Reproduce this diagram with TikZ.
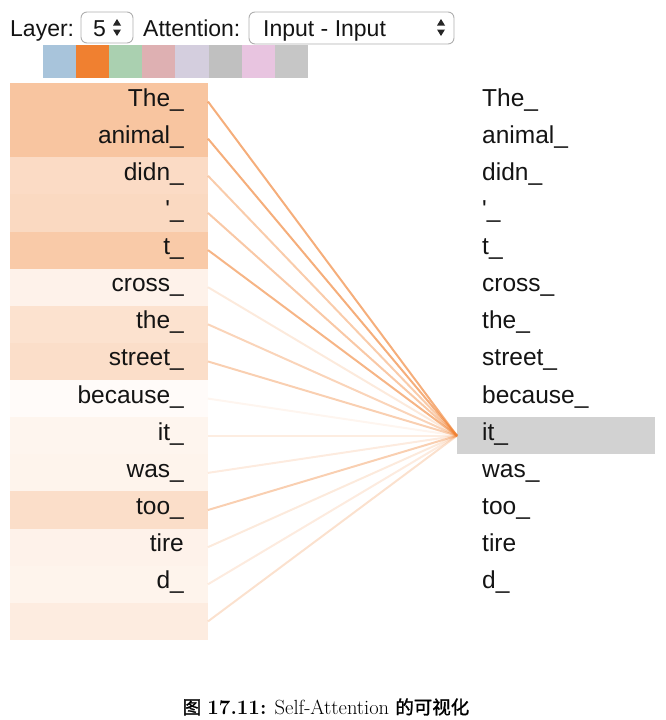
\documentclass[tikz,border=0pt]{standalone}
\usepackage{fontspec}
\newfontfamily\hv[Ligatures=TeXOff]{Liberation Sans}
\newfontfamily\cjk[AutoFakeBold=1.5,Scale=0.9]{Noto Sans CJK SC}
\definecolor{attn}{RGB}{240,128,48}
\definecolor{hl}{RGB}{210,210,210}
\definecolor{ddborder}{RGB}{175,175,175}
\definecolor{sw1}{RGB}{168,196,219}
\definecolor{sw2}{RGB}{240,128,48}
\definecolor{sw3}{RGB}{170,208,176}
\definecolor{sw4}{RGB}{222,176,178}
\definecolor{sw5}{RGB}{212,206,222}
\definecolor{sw6}{RGB}{192,192,192}
\definecolor{sw7}{RGB}{232,196,224}
\definecolor{sw8}{RGB}{198,198,198}
\tikzset{
  word/.style={font=\hv\fontsize{24.5}{27}\selectfont, inner sep=0pt, text=black!92},
  ctrl/.style={font=\hv\fontsize{23}{26}\selectfont, inner sep=0pt, text=black!92},
  cell/.style={draw=none, minimum width=198pt, minimum height=37.13pt, inner sep=0pt, outer sep=0pt},
  dropdown/.style={draw=ddborder, fill=white, rounded corners=6pt, line width=0.9pt, inner sep=0pt},
  swatch/.style={minimum width=33.1pt, minimum height=33pt, inner sep=0pt, outer sep=0pt, draw=none},
  arrowtri/.style={fill=black!85},
}
\begin{document}
\begin{tikzpicture}[x=1pt,y=-1pt]
\useasboundingbox (0,0) rectangle (666,720);
% top controls
\node[ctrl, anchor=base west] (layer) at (10,36) {Layer:};
\node[dropdown, minimum width=52pt, minimum height=31pt] (dd1) at (107,27.5) {};
\node[ctrl, anchor=base west] (five) at (93,36) {5};
\fill[arrowtri] (113,25.5) -- (121,25.5) -- (117,19) -- cycle;
\fill[arrowtri] (113,29.5) -- (121,29.5) -- (117,36) -- cycle;
\node[ctrl, anchor=base west] (att) at (143,36) {Attention:};
\node[dropdown, minimum width=205pt, minimum height=32pt] (dd2) at (351.5,28) {};
\node[ctrl, anchor=base west] (inp) at (263,36) {Input - Input};
\fill[arrowtri] (437,25.5) -- (445,25.5) -- (441,19) -- cycle;
\fill[arrowtri] (437,29.5) -- (445,29.5) -- (441,36) -- cycle;
% swatches
\foreach \c [count=\k from 0] in {sw1,sw2,sw3,sw4,sw5,sw6,sw7,sw8}{
  \node[swatch, fill=\c] (S\k) at ({43+33.1*(\k+0.5)},61.5) {};
}
% highlight on the right
\node[cell, fill=hl] (R9) at (556,{83+37.13*9.5}) {};
% rows
\foreach \w/\a [count=\i from 0] in {The\_/46, animal\_/46, didn\_/28, '\_/30, t\_/42, cross\_/10, the\_/23, street\_/26, because\_/3, it\_/8, was\_/9, too\_/26, tire/10, d\_/9, /15}{
  \node[cell, fill=attn!\a!white] (L\i) at (109,{83+37.13*(\i+0.5)}) {};
  \node[word, anchor=base east] (LT\i) at (184,{83+37.13*\i+23}) {\w};
  \ifnum\i<14
    \node[word, anchor=base west] (RT\i) at (482,{83+37.13*\i+23}) {\w};
  \fi
}
% connectors
\foreach \a [count=\i from 0] in {46,46,28,30,42,10,23,26,3,8,9,26,10,9,15}{
  \pgfmathsetmacro\op{min(1,\a/100*1.3+0.04)}
  \draw[attn, line width=2pt, opacity=\op] (L\i.east) -- (R9.west);
}
% caption
\node[anchor=base, inner sep=0pt, font=\fontsize{20.5}{23}\selectfont] (cap) at (326,714)
  {{\cjk\bfseries 图} \textbf{17.11:} Self-Attention {\cjk\bfseries 的可视化}};
\end{tikzpicture}
\end{document}
